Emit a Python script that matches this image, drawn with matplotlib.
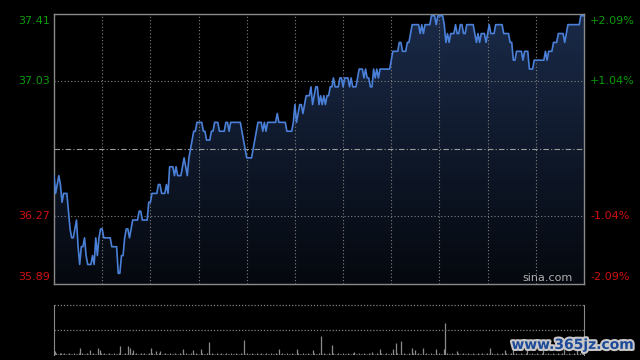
import numpy as np
import matplotlib
matplotlib.use("Agg")
import matplotlib.pyplot as plt
import matplotlib.patheffects as pe
from matplotlib.patches import PathPatch
from matplotlib.path import Path

# ---------------- data ----------------
prev_close = 36.65
price_ticks = [35.89, 36.27, 36.65, 37.03, 37.41]
pct_labels = ["-2.09%", "-1.04%", "", "+1.04%", "+2.09%"]

# minute prices (run-length: price, number of minutes)
run_price = [36.50, 36.40, 36.45, 36.50, 36.45, 36.35, 36.40, 36.30, 36.20, 36.15,
             36.20, 36.25, 36.10, 36.00, 36.10, 36.15, 36.05, 36.00, 36.05, 36.00,
             36.15, 36.05, 36.15, 36.20, 36.15, 36.10, 35.95, 36.05, 36.15, 36.20,
             36.15, 36.20, 36.25, 36.30, 36.25, 36.35, 36.40, 36.45, 36.40, 36.45,
             36.40, 36.55, 36.50, 36.55, 36.50, 36.55, 36.60, 36.55, 36.50, 36.60,
             36.65, 36.70, 36.75, 36.80, 36.75, 36.70, 36.75, 36.80, 36.75, 36.80,
             36.75, 36.80, 36.75, 36.70, 36.65, 36.60, 36.65, 36.70, 36.75, 36.80,
             36.75, 36.80, 36.75, 36.80, 36.85, 36.80, 36.75, 36.80, 36.90, 36.80,
             36.85, 36.90, 36.85, 36.90, 36.95, 37.00, 36.90, 36.95, 37.00, 36.90,
             36.95, 36.90, 36.95, 36.90, 36.95, 37.00, 37.05, 37.00, 37.05, 37.00,
             37.05, 37.00, 37.05, 37.00, 37.05, 37.10, 37.05, 37.10, 37.05, 37.00,
             37.10, 37.05, 37.10, 37.05, 37.10, 37.15, 37.20, 37.25, 37.20, 37.25,
             37.30, 37.35, 37.30, 37.35, 37.30, 37.35, 37.40, 37.35, 37.40, 37.35,
             37.25, 37.30, 37.25, 37.30, 37.35, 37.30, 37.35, 37.30, 37.35, 37.30,
             37.25, 37.30, 37.25, 37.30, 37.25, 37.30, 37.35, 37.30, 37.35, 37.30,
             37.25, 37.15, 37.20, 37.15, 37.20, 37.10, 37.15, 37.20, 37.15, 37.20,
             37.25, 37.30, 37.25, 37.30, 37.35, 37.40]
run_len = [1, 1, 1, 1, 1, 1, 3, 1, 1, 2,
           1, 1, 1, 1, 2, 1, 1, 3, 1, 1,
           1, 1, 1, 2, 5, 4, 2, 2, 1, 2,
           1, 1, 4, 2, 4, 2, 4, 2, 3, 1,
           1, 3, 1, 1, 3, 1, 1, 1, 1, 1,
           1, 1, 2, 4, 2, 3, 2, 3, 4, 2,
           1, 7, 1, 1, 1, 4, 1, 1, 1, 3,
           1, 1, 1, 6, 1, 5, 4, 1, 1, 1,
           1, 2, 1, 1, 3, 1, 1, 1, 2, 1,
           1, 1, 1, 1, 2, 2, 1, 3, 2, 1,
           3, 1, 1, 3, 1, 3, 1, 1, 2, 2,
           1, 1, 1, 1, 7, 1, 4, 2, 3, 2,
           1, 5, 1, 1, 1, 4, 3, 1, 4, 1,
           1, 1, 1, 3, 1, 2, 2, 2, 5, 1,
           1, 1, 1, 3, 1, 1, 1, 3, 5, 4,
           2, 2, 4, 1, 3, 3, 7, 1, 1, 3,
           3, 4, 1, 1, 8, 3]

volume = [4, 2, 1, 2, 2, 1, 2, 1, 1, 2,
          1, 1, 2, 1, 1, 2, 6.7, 2, 1, 1,
          2, 1, 5, 1, 2, 1, 1, 6.7, 5, 2,
          1, 2, 1, 1, 2, 1, 1, 2, 1, 1,
          2, 9, 1, 1, 2, 1, 9, 6.7, 2, 5,
          1, 2, 1, 1, 2, 1, 2, 1, 1, 2,
          6.7, 2, 1, 4, 1, 2, 4, 1, 1, 2,
          1, 1, 2, 1, 1, 2, 1, 1, 2, 1,
          5.7, 1, 2, 1, 1, 2, 5, 1, 2, 1,
          1, 5.7, 2, 1, 1, 2, 13, 1, 2, 1,
          1, 2, 1, 1, 2, 1, 1, 2, 1, 1,
          2, 1, 1, 2, 1, 1, 2, 1, 15, 1,
          2, 1, 1, 2, 1, 1, 2, 1, 1, 2,
          1, 1, 2, 1, 1, 2, 1, 1, 2, 1,
          5.7, 1, 2, 1, 1, 2, 1, 1, 2, 1,
          1, 5.7, 2, 1, 1, 2, 1, 1, 2, 1,
          1, 5, 2, 1, 1, 2, 19, 1, 2, 1,
          1, 2, 1, 10, 2, 1, 1, 2, 1, 1,
          2, 1, 1, 2, 1, 1, 2, 3.5, 1, 1,
          2, 1, 1, 2, 1, 1, 2, 1, 3.5, 1,
          1, 2, 1, 5.7, 2, 1, 1, 2, 1, 1,
          2, 5.7, 1, 12, 2, 1, 14, 1, 2, 1,
          1, 2, 1, 6.7, 2, 5, 1, 2, 1, 1,
          6.7, 1, 2, 1, 1, 2, 1, 1, 5.7, 1,
          2, 1, 1, 5.7, 32, 2, 1, 1, 2, 1,
          1, 4, 2, 1, 1, 2, 1, 1, 2, 1,
          1, 2, 1, 1, 2, 1, 1, 2, 1, 1,
          2, 1, 6.7, 2, 1, 1, 2, 1, 1, 2,
          1, 5, 2, 1, 1, 2, 15, 1, 2, 1,
          1, 2, 1, 1, 2, 6, 1, 1, 2, 1,
          1, 2, 1, 1, 2, 5, 1, 1, 2, 1,
          1, 2, 1, 1, 2, 1, 1, 2, 7, 1,
          1, 2, 1, 1, 2, 1, 5, 1, 2, 1,
          8]

prices = np.repeat(run_price, run_len)
n_min = 331
minutes = np.arange(len(prices))
vol_x = np.arange(len(volume))

# ---------------- figure ----------------
fig = plt.figure(figsize=(6.4, 3.6), dpi=100, facecolor="black")
W, H = 640, 360
L, R = 54, 584
ax = fig.add_axes([L / W, 1 - 284 / H, (R - L) / W, (284 - 14) / H])
axv = fig.add_axes([L / W, 1 - 355 / H, (R - L) / W, 50 / H])

ymin, ymax = price_ticks[0], price_ticks[-1]
ax.set_facecolor("black")
ax.set_xlim(0, n_min - 1)
ax.set_ylim(ymin, ymax)

# gradient fill under line
grad = np.linspace(0, 1, 256).reshape(-1, 1)
top_c = np.array([0x1a, 0x2a, 0x48]) / 255
bot_c = np.array([0x05, 0x08, 0x0e]) / 255
img = (bot_c[None, None, :] * (1 - grad[..., None]) + top_c[None, None, :] * grad[..., None])
im = ax.imshow(img, extent=[0, n_min - 1, ymin, ymax], origin="lower",
               aspect="auto", zorder=1, interpolation="bilinear")
verts = [(minutes[0], ymin)] + list(zip(minutes, prices)) + [(minutes[-1], ymin)]
poly = PathPatch(Path(verts), transform=ax.transData, facecolor="none", edgecolor="none")
ax.add_patch(poly)
im.set_clip_path(poly)

ax.plot(minutes, prices, color="#4a80d8", lw=1.2, zorder=4)

# grid
grid_kw = dict(color="#808080", lw=0.8, linestyle=(0, (1, 2)), zorder=2)
for m in range(30, 330, 30):
    ax.axvline(m, **grid_kw)
for p in (price_ticks[1], price_ticks[3]):
    ax.axhline(p, **grid_kw)
ax.axhline(prev_close, color="#9a9a9a", lw=0.8, linestyle=(0, (5, 2, 1, 2)), zorder=2)

for s in ax.spines.values():
    s.set_color("#8a8a8a")
    s.set_linewidth(1.0)
ax.set_xticks([])
ax.set_yticks([])

# labels
green, red = "#0a9a0a", "#d01010"
fs = 8
for i, p in enumerate(price_ticks):
    if i == 2:
        continue
    col = green if p > prev_close else red
    va = "top" if i == 4 else ("bottom" if i == 0 else "center")
    yoff = -1.5 if i == 4 else (2 if i == 0 else 0)
    ax.annotate(f"{p:.2f}", xy=(0, p), xycoords="data", xytext=(-4, yoff),
                textcoords="offset pixels", ha="right", va=va, color=col, fontsize=fs)
    ax.annotate(pct_labels[i], xy=(1, p), xycoords=("axes fraction", "data"),
                xytext=(6, yoff), textcoords="offset pixels", ha="left", va=va,
                color=col, fontsize=fs)

ax.text(0.978, 0.005, "sina.com", transform=ax.transAxes, ha="right", va="bottom",
        color="#b0b0b0", fontsize=fs, zorder=5)

# volume panel
axv.set_facecolor("black")
axv.set_xlim(-0.5, n_min - 0.5)
axv.set_ylim(0, 50)
axv.vlines(vol_x, 0, volume, color="#8a8a8a", lw=0.9)
axv.axhline(50, color="#808080", lw=0.9, linestyle=(0, (1, 1.5)), clip_on=False)
axv.axhline(25, color="#808080", lw=0.9, linestyle=(0, (1, 1.5)))
for k in ("top", "bottom"):
    axv.spines[k].set_visible(False)
for k in ("left", "right"):
    axv.spines[k].set_color("#8a8a8a")
axv.set_xticks([])
axv.set_yticks([])

# watermark
fig.text(0.99, 0.042, "www.365jz.com", ha="right", va="center", color="#1c4a98",
         fontsize=10, fontweight="bold", family="DejaVu Sans",
         path_effects=[pe.withStroke(linewidth=3, foreground="#c8c8c8")])

fig.savefig("out.png", dpi=100, facecolor="black")
